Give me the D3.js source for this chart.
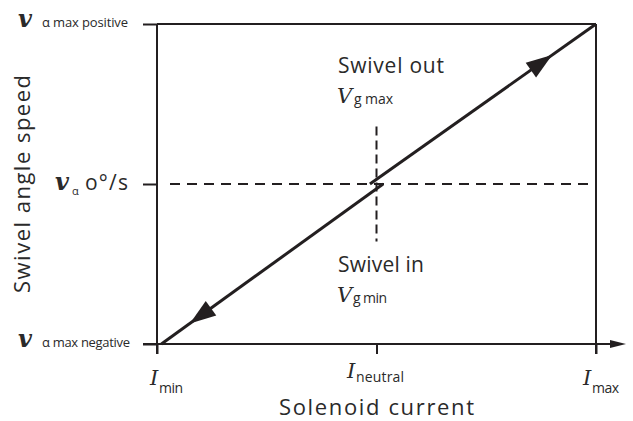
<!DOCTYPE html>
<html>
<head>
<meta charset="utf-8">
<script src="https://cdn.jsdelivr.net/npm/d3@7"></script>
<style>
  body { margin: 0; background: #fff; }
  svg { display: block; }
</style>
</head>
<body>
<svg id="chart" width="633" height="421"></svg>
<script>
// data
var xTickValues = [0, 1, 2];
var xTickSubs = ["min", "neutral", "max"];
var yTickValues = [-1, 0, 1];
var yTickSubs = ["α max negative", "α", "α max positive"];
var yTickTail = ["", "o°/s", ""];
var swivelIn = [[0.02, -1], [1.03, 0]];
var swivelOut = [[0.97, 0], [2, 1]];
var arrowTips = [0.15, 1.8]; // x value where each arrowhead tip sits

var ink = "#231f20", txt = "#2a2a2a";
var sans = "'Open Sans', 'Noto Sans', sans-serif";
var serif = "'DejaVu Serif', serif";

var svg = d3.select("#chart");
var x = d3.scaleLinear().domain([0, 2]).range([157, 596]);
var y = d3.scaleLinear().domain([-1, 1]).range([344, 24]);

// box
svg.append("line").attr("x1", x(0)).attr("x2", x(2)).attr("y1", y(1)).attr("y2", y(1))
   .style("stroke", ink).style("stroke-width", 2);
svg.append("line").attr("x1", x(2)).attr("x2", x(2)).attr("y1", y(1)).attr("y2", y(-1) + 10)
   .style("stroke", ink).style("stroke-width", 2);
svg.append("line").attr("x1", x(0)).attr("x2", x(0)).attr("y1", y(1)).attr("y2", y(-1) + 10)
   .style("stroke", ink).style("stroke-width", 2);

// axes ticks
var xAxis = svg.append("g").attr("transform", "translate(0," + y(-1) + ")")
   .call(d3.axisBottom(x).tickValues(xTickValues).tickSizeInner(10).tickSizeOuter(0).tickFormat(""));
xAxis.select(".domain").remove();
xAxis.selectAll("line").style("stroke", ink).style("stroke-width", 2);

var yAxis = svg.append("g").attr("transform", "translate(" + x(0) + ",0)")
   .call(d3.axisLeft(y).tickValues(yTickValues).tickSizeInner(14).tickSizeOuter(0).tickFormat(""));
yAxis.select(".domain").remove();
yAxis.selectAll("line").style("stroke", ink).style("stroke-width", 2);

// x axis line with arrow
svg.append("line").attr("x1", x(0) - 14).attr("x2", 612).attr("y1", y(-1)).attr("y2", y(-1))
   .style("stroke", ink).style("stroke-width", 2);
svg.append("path").attr("d", "M610," + (y(-1) - 4) + "L626," + y(-1) + "L610," + (y(-1) + 4) + "Z")
   .style("fill", ink);

// dashed guides
svg.append("line").attr("x1", x(0) + 13).attr("x2", x(2)).attr("y1", y(0)).attr("y2", y(0))
   .style("stroke", ink).style("stroke-width", 2).style("stroke-dasharray", "10,7");
svg.append("line").attr("x1", x(1)).attr("x2", x(1)).attr("y1", y(0.36)).attr("y2", y(-0.36))
   .style("stroke", ink).style("stroke-width", 2).style("stroke-dasharray", "9,5");

// characteristic lines
var line = d3.line().x(function(d){ return x(d[0]); }).y(function(d){ return y(d[1]); });
[swivelIn, swivelOut].forEach(function(seg){
  svg.append("path").attr("d", line(seg)).style("fill", "none").style("stroke", ink).style("stroke-width", 3);
});

// arrowheads
function arrow(tipX, seg, dir) {
  var dx = x(seg[1][0]) - x(seg[0][0]), dy = y(seg[1][1]) - y(seg[0][1]);
  var len = Math.sqrt(dx*dx + dy*dy); dx = dx/len*dir; dy = dy/len*dir;
  var tipY = seg[0][1] + (tipX - seg[0][0]) * (seg[1][1] - seg[0][1]) / (seg[1][0] - seg[0][0]);
  var tx = x(tipX), ty = y(tipY);
  var L = 26, W = 9;
  var bx = tx - dx*L, by = ty - dy*L;
  svg.append("path").attr("d", "M" + tx + "," + ty + "L" + (bx - dy*W) + "," + (by + dx*W) +
     "L" + (bx + dy*W) + "," + (by - dx*W) + "Z").style("fill", ink);
}
arrow(arrowTips[0], swivelIn, -1);
arrow(arrowTips[1], swivelOut, 1);

// helper for sized text
function label(px, py, str, fam, size, style, len) {
  var t = svg.append("text").attr("x", px).attr("y", py).text(str)
     .style("font-family", fam).style("font-size", size + "px").style("fill", txt);
  if (style) t.style("font-style", style);
  if (len) t.attr("textLength", len).attr("lengthAdjust", "spacing");
  return t;
}
function vee(px, py) {
  label(px, py, "v", serif, 24, "italic").style("font-weight", "bold");
}

// y tick labels
vee(18, y(1) + 3);
label(42, y(1) + 3, yTickSubs[2], sans, 13, null, 86);
vee(18, y(-1) + 3);
label(42, y(-1) + 3, yTickSubs[0], sans, 13, null, 88);
vee(55, y(0) + 6);
label(72, y(0) + 11, yTickSubs[1], sans, 11);
label(85, y(0) + 6, yTickTail[1], sans, 21, null, 43);

// x tick labels
var xLab = [[150, 385, 24], [347, 378, 48], [583, 385, 27]];
xTickValues.forEach(function(v, i){
  label(xLab[i][0], xLab[i][1], "I", serif, 21, "italic");
  label(xLab[i][0] + 9, xLab[i][1] + (i == 1 ? 4 : 8), xTickSubs[i], sans, 14, null, xLab[i][2]);
});

// annotations
label(338, 73, "Swivel out", sans, 21, null, 106);
label(337, 103, "V", serif, 21, "italic");
label(354, 104, "g max", sans, 14, null, 39);
label(338, 272, "Swivel in", sans, 21, null, 86);
label(337, 302, "V", serif, 21, "italic");
label(353, 303, "g min", sans, 14, null, 34);

// axis titles
svg.append("text").attr("x", x(1)).attr("y", 415).attr("text-anchor", "middle").text("Solenoid current")
   .attr("textLength", 195).attr("lengthAdjust", "spacing")
   .style("font-family", sans).style("font-size", "22px").style("fill", txt);
svg.append("text").attr("transform", "translate(30,184) rotate(-90)").attr("text-anchor", "middle").text("Swivel angle speed")
   .attr("textLength", 218).attr("lengthAdjust", "spacing")
   .style("font-family", sans).style("font-size", "22px").style("fill", txt);
</script>
</body>
</html>
